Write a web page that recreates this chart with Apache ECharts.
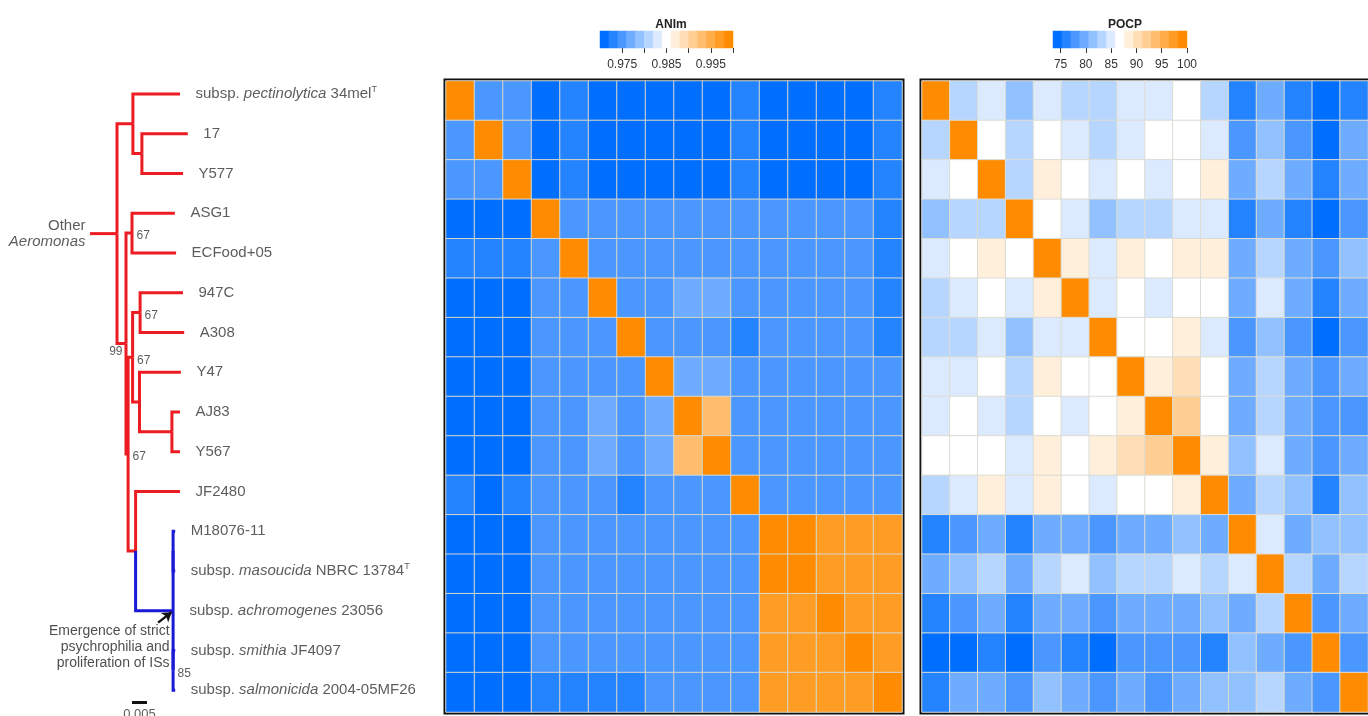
<!DOCTYPE html>
<html>
<head>
<meta charset="utf-8">
<script src="https://cdn.jsdelivr.net/npm/echarts@6/dist/echarts.min.js"></script>
<style>
  html, body { margin: 0; padding: 0; background: #fff; }
  #chart { width: 1368px; height: 716px; }
</style>
</head>
<body>
<div id="chart"></div>
<script>
// Strains in tree order, top to bottom. *...* marks an italic epithet, ^ a superscript.
const taxonKeys = ['P34mel', '17', 'Y577', 'ASG1', 'ECFood05', '947C', 'A308', 'Y47', 'AJ83', 'Y567',
  'JF2480', 'M18076', 'NBRC13784', '23056', 'JF4097', 'MF26'];
const taxonLabels = ['subsp. *pectinolytica* 34mel^T', '17', 'Y577', 'ASG1', 'ECFood+05', '947C', 'A308',
  'Y47', 'AJ83', 'Y567', 'JF2480', 'M18076-11', 'subsp. *masoucida* NBRC 13784^T',
  'subsp. *achromogenes* 23056', 'subsp. *smithia* JF4097', 'subsp. *salmonicida* 2004-05MF26'];
const psychrophilicTaxa = ['M18076', 'NBRC13784', '23056', 'JF4097', 'MF26'];

// Core-genome phylogeny (branch lengths in substitutions/site, bootstrap as node labels)
const newick = "((P34mel:0.0157,(17:0.0153,Y577:0.0137):0.0030):0.0053,((ASG1:0.0143,ECFood05:0.0147)67:0.0020,(((947C:0.0143,A308:0.0147)67:0.0025,(Y47:0.0138,(AJ83:0.0027,Y567:0.0027):0.0108):0.0023)67:0.0015,(JF2480:0.0148,((M18076:0.0007,NBRC13784:0.0007):0,23056:0.0003,(JF4097:0.0007,MF26:0.0007)85:0):0.0125):0.0025)67:0.0007)99:0.0030):0.0090;";

// Pairwise ANIm (rows/columns in tree order)
const animValues = [
  [1.0000,0.9750,0.9750,0.9710,0.9730,0.9710,0.9710,0.9710,0.9710,0.9710,0.9730,0.9710,0.9710,0.9710,0.9710,0.9730],
  [0.9750,1.0000,0.9750,0.9710,0.9730,0.9710,0.9710,0.9710,0.9710,0.9710,0.9730,0.9710,0.9710,0.9710,0.9710,0.9730],
  [0.9750,0.9750,1.0000,0.9710,0.9730,0.9710,0.9710,0.9710,0.9710,0.9710,0.9730,0.9710,0.9710,0.9710,0.9710,0.9730],
  [0.9710,0.9710,0.9710,1.0000,0.9750,0.9750,0.9750,0.9750,0.9750,0.9750,0.9750,0.9750,0.9750,0.9750,0.9750,0.9730],
  [0.9730,0.9730,0.9730,0.9750,1.0000,0.9750,0.9750,0.9750,0.9750,0.9750,0.9750,0.9750,0.9750,0.9750,0.9750,0.9730],
  [0.9710,0.9710,0.9710,0.9750,0.9750,1.0000,0.9750,0.9750,0.9770,0.9770,0.9750,0.9750,0.9750,0.9750,0.9750,0.9730],
  [0.9710,0.9710,0.9710,0.9750,0.9750,0.9750,1.0000,0.9750,0.9750,0.9750,0.9730,0.9750,0.9750,0.9750,0.9750,0.9730],
  [0.9710,0.9710,0.9710,0.9750,0.9750,0.9750,0.9750,1.0000,0.9770,0.9770,0.9750,0.9750,0.9750,0.9750,0.9750,0.9750],
  [0.9710,0.9710,0.9710,0.9750,0.9750,0.9770,0.9750,0.9770,1.0000,0.9930,0.9750,0.9750,0.9750,0.9750,0.9750,0.9750],
  [0.9710,0.9710,0.9710,0.9750,0.9750,0.9770,0.9750,0.9770,0.9930,1.0000,0.9750,0.9750,0.9750,0.9750,0.9750,0.9750],
  [0.9730,0.9710,0.9730,0.9750,0.9750,0.9750,0.9730,0.9750,0.9750,0.9750,1.0000,0.9750,0.9750,0.9750,0.9750,0.9750],
  [0.9710,0.9710,0.9710,0.9750,0.9750,0.9750,0.9750,0.9750,0.9750,0.9750,0.9750,1.0000,0.9990,0.9970,0.9970,0.9970],
  [0.9710,0.9710,0.9710,0.9750,0.9750,0.9750,0.9750,0.9750,0.9750,0.9750,0.9750,0.9990,1.0000,0.9970,0.9970,0.9970],
  [0.9710,0.9710,0.9710,0.9750,0.9750,0.9750,0.9750,0.9750,0.9750,0.9750,0.9750,0.9970,0.9970,1.0000,0.9970,0.9970],
  [0.9710,0.9710,0.9710,0.9750,0.9750,0.9750,0.9750,0.9750,0.9750,0.9750,0.9750,0.9970,0.9970,0.9970,1.0000,0.9970],
  [0.9710,0.9710,0.9710,0.9730,0.9730,0.9730,0.9730,0.9750,0.9750,0.9750,0.9750,0.9970,0.9970,0.9970,0.9970,1.0000]
];

// Pairwise POCP (%)
const pocpValues = [
  [100, 83.2, 85.0, 81.5, 85.0, 83.2, 83.2, 85.0, 85.0, 86.8, 83.2, 76.2, 79.7, 76.2, 74.4, 76.2],
  [83.2, 100, 86.8, 83.2, 86.8, 85.0, 83.2, 85.0, 86.8, 86.8, 85.0, 77.9, 81.5, 77.9, 74.4, 79.7],
  [85.0, 86.8, 100, 83.2, 88.5, 86.8, 85.0, 86.8, 85.0, 86.8, 88.5, 79.7, 83.2, 79.7, 76.2, 79.7],
  [81.5, 83.2, 83.2, 100, 86.8, 85.0, 81.5, 83.2, 83.2, 85.0, 85.0, 76.2, 79.7, 76.2, 74.4, 77.9],
  [85.0, 86.8, 88.5, 86.8, 100, 88.5, 85.0, 88.5, 86.8, 88.5, 88.5, 79.7, 83.2, 79.7, 77.9, 81.5],
  [83.2, 85.0, 86.8, 85.0, 88.5, 100, 85.0, 86.8, 85.0, 86.8, 86.8, 79.7, 85.0, 79.7, 76.2, 79.7],
  [83.2, 83.2, 85.0, 81.5, 85.0, 85.0, 100, 86.8, 86.8, 88.5, 85.0, 77.9, 81.5, 77.9, 74.4, 77.9],
  [85.0, 85.0, 86.8, 83.2, 88.5, 86.8, 86.8, 100, 88.5, 90.3, 86.8, 79.7, 83.2, 79.7, 77.9, 79.7],
  [85.0, 86.8, 85.0, 83.2, 86.8, 85.0, 86.8, 88.5, 100, 92.1, 86.8, 79.7, 83.2, 79.7, 77.9, 77.9],
  [86.8, 86.8, 86.8, 85.0, 88.5, 86.8, 88.5, 90.3, 92.1, 100, 88.5, 81.5, 85.0, 79.7, 77.9, 79.7],
  [83.2, 85.0, 88.5, 85.0, 88.5, 86.8, 85.0, 86.8, 86.8, 88.5, 100, 79.7, 83.2, 81.5, 76.2, 81.5],
  [76.2, 77.9, 79.7, 76.2, 79.7, 79.7, 77.9, 79.7, 79.7, 81.5, 79.7, 100, 85.0, 79.7, 81.5, 81.5],
  [79.7, 81.5, 83.2, 79.7, 83.2, 85.0, 81.5, 83.2, 83.2, 85.0, 83.2, 85.0, 100, 83.2, 79.7, 83.2],
  [76.2, 77.9, 79.7, 76.2, 79.7, 79.7, 77.9, 79.7, 79.7, 79.7, 81.5, 79.7, 83.2, 100, 77.9, 79.7],
  [74.4, 74.4, 76.2, 74.4, 77.9, 76.2, 74.4, 77.9, 77.9, 77.9, 76.2, 81.5, 79.7, 77.9, 100, 77.9],
  [76.2, 79.7, 79.7, 77.9, 81.5, 79.7, 77.9, 79.7, 77.9, 79.7, 81.5, 81.5, 83.2, 79.7, 77.9, 100]
];

// Colour keys
const animRange = [0.970, 1.000];
const animTicks = [0.975, 0.980, 0.985, 0.990, 0.995, 1.000];
const animTickLabels = [0.975, 0.985, 0.995];
const pocpRange = [73.5, 100];
const pocpTicks = [75, 80, 85, 90, 95, 100];
const keySteps = 15;
const scaleBar = { start: 0.014, length: 0.005, row: 15.3 };

// ---------- helpers ----------
const FONT = "'Liberation Sans', Arial, Helvetica, sans-serif";
const TEXT = '#333';
const RED = '#EC1C22';
const BLUE = '#1A1AD6';

function mix(a, b, t) { return a.map((v, i) => Math.round(v + (b[i] - v) * t)); }
const cBlue = [0, 110, 255], cWhite = [255, 255, 255], cOrange = [255, 140, 0];
const palette = [];
for (let i = 0; i < keySteps; i++) {
  const t = i / (keySteps - 1);
  const c = t < 0.5 ? mix(cBlue, cWhite, t * 2) : mix(cWhite, cOrange, (t - 0.5) * 2);
  palette.push('rgb(' + c.join(',') + ')');
}
function pieces(range) {
  const w = (range[1] - range[0]) / keySteps;
  return palette.map((color, i) => {
    const p = { color };
    if (i > 0) p.gte = range[0] + i * w;
    if (i < keySteps - 1) p.lt = range[0] + (i + 1) * w;
    return p;
  });
}
function keyData(range) {
  const w = (range[1] - range[0]) / keySteps;
  return palette.map((_, i) => [i, 0, range[0] + (i + 0.5) * w]);
}
function matrixData(m) {
  const out = [];
  m.forEach((row, r) => row.forEach((v, c) => out.push([c, r, v])));
  return out;
}

// Newick parsing and rectangular layout
function parseNewick(s) {
  let i = 0;
  function node() {
    const n = { children: [], label: '', length: 0 };
    if (s[i] === '(') {
      i++;
      n.children.push(node());
      while (s[i] === ',') { i++; n.children.push(node()); }
      i++;
    }
    let lab = '';
    while (i < s.length && !',():;'.includes(s[i])) lab += s[i++];
    n.label = lab;
    if (s[i] === ':') {
      i++;
      let num = '';
      while (i < s.length && !',();'.includes(s[i])) num += s[i++];
      n.length = parseFloat(num);
    }
    return n;
  }
  return node();
}
const tree = parseNewick(newick);
function layout(n, depth) {
  n.x = depth + n.length;
  if (!n.children.length) {
    n.y = taxonKeys.indexOf(n.label);
    n.psy = psychrophilicTaxa.includes(n.label);
  } else {
    n.children.forEach(c => layout(c, n.x));
    n.y = n.children.reduce((s, c) => s + c.y, 0) / n.children.length;
    n.psy = n.children.every(c => c.psy);
  }
}
layout(tree, 0);

const edges = [{ coords: [[0, tree.y], [tree.x, tree.y]], lineStyle: { color: RED } }];
const tips = [], supportNodes = [];
let psyNode = null;
(function walk(n) {
  if (!n.children.length) { tips.push(n); return; }
  if (n.label) supportNodes.push(n);
  n.children.forEach(c => {
    edges.push({ coords: [[n.x, n.y], [n.x, c.y], [c.x, c.y]], lineStyle: { color: c.psy ? BLUE : RED } });
    if (c.psy && !n.psy) psyNode = c;
    walk(c);
  });
})(tree);

function richLabel(s) {
  return s.replace(/\*([^*]+)\*/g, '{i|$1}').replace(/\^(\w+)/g, '{sup|$1}');
}
const rich = {
  i: { fontStyle: 'italic', fontSize: 15, fontFamily: FONT, color: TEXT },
  sup: { fontSize: 9, fontFamily: FONT, color: TEXT, padding: [0, 0, 8, 0] }
};

// ---------- chart ----------
const chart = echarts.init(document.getElementById('chart'));
const hidden = { show: false };
const pxX = 1 / 3000;           // tree x units per pixel
const pxY = 1 / 39.75;          // tree rows per pixel

const option = {
  animation: false,
  backgroundColor: '#fff',
  title: [
    { text: 'ANIm', left: 666, top: 14, textAlign: 'center',
      textStyle: { fontSize: 12, fontWeight: 'bold', color: '#222', fontFamily: FONT } },
    { text: 'POCP', left: 1120, top: 14, textAlign: 'center',
      textStyle: { fontSize: 12, fontWeight: 'bold', color: '#222', fontFamily: FONT } }
  ],
  grid: [
    { left: 446, top: 81, width: 456, height: 631, show: true, borderColor: '#111', borderWidth: 5 },
    { left: 922, top: 81, width: 456, height: 631, show: true, borderColor: '#111', borderWidth: 5 },
    { left: 600, top: 31, width: 133, height: 17 },
    { left: 1053, top: 31, width: 134, height: 17 },
    { left: 90, top: 74, width: 300, height: 636 }
  ],
  xAxis: [
    { type: 'category', gridIndex: 0, data: taxonKeys, show: false },
    { type: 'category', gridIndex: 1, data: taxonKeys, show: false },
    { type: 'category', gridIndex: 2, data: palette.map((_, i) => String(i)), show: false },
    { type: 'value', gridIndex: 2, min: animRange[0], max: animRange[1], position: 'bottom',
      axisLine: hidden, splitLine: hidden,
      axisTick: { show: true, length: 5, lineStyle: { color: '#333' }, customValues: animTicks },
      axisLabel: { customValues: animTickLabels, formatter: v => v.toFixed(3), fontSize: 12,
        color: TEXT, fontFamily: FONT, margin: 11 } },
    { type: 'category', gridIndex: 3, data: palette.map((_, i) => String(i)), show: false },
    { type: 'value', gridIndex: 3, min: pocpRange[0], max: pocpRange[1], position: 'bottom',
      axisLine: hidden, splitLine: hidden,
      axisTick: { show: true, length: 5, lineStyle: { color: '#333' }, customValues: pocpTicks },
      axisLabel: { customValues: pocpTicks, fontSize: 12, color: TEXT, fontFamily: FONT, margin: 11 } },
    { type: 'value', gridIndex: 4, min: 0, max: 0.1, show: false }
  ],
  yAxis: [
    { type: 'category', gridIndex: 0, data: taxonKeys, inverse: true, show: false },
    { type: 'category', gridIndex: 1, data: taxonKeys, inverse: true, show: false },
    { type: 'category', gridIndex: 2, data: ['k'], show: false },
    { type: 'category', gridIndex: 3, data: ['k'], show: false },
    { type: 'value', gridIndex: 4, min: -0.5, max: 15.5, inverse: true, show: false }
  ],
  visualMap: [
    { type: 'piecewise', show: false, seriesIndex: [0, 2], dimension: 2, pieces: pieces(animRange) },
    { type: 'piecewise', show: false, seriesIndex: [1, 3], dimension: 2, pieces: pieces(pocpRange) }
  ],
  series: [
    { type: 'heatmap', xAxisIndex: 0, yAxisIndex: 0, data: matrixData(animValues),
      itemStyle: { borderColor: '#d6d6cc', borderWidth: 1 }, emphasis: { disabled: true } },
    { type: 'heatmap', xAxisIndex: 1, yAxisIndex: 1, data: matrixData(pocpValues),
      itemStyle: { borderColor: '#dcdcd4', borderWidth: 1 }, emphasis: { disabled: true } },
    { type: 'heatmap', xAxisIndex: 2, yAxisIndex: 2, data: keyData(animRange),
      itemStyle: { borderWidth: 0 }, emphasis: { disabled: true } },
    { type: 'heatmap', xAxisIndex: 4, yAxisIndex: 3, data: keyData(pocpRange),
      itemStyle: { borderWidth: 0 }, emphasis: { disabled: true } },
    // tree branches
    { type: 'lines', coordinateSystem: 'cartesian2d', xAxisIndex: 6, yAxisIndex: 4, polyline: true,
      silent: true, clip: false, data: edges,
      lineStyle: { width: 3, opacity: 1, cap: 'butt', join: 'miter' } },
    // tip labels
    { type: 'scatter', xAxisIndex: 6, yAxisIndex: 4, silent: true, clip: false, symbolSize: 1,
      itemStyle: { color: 'rgba(0,0,0,0)' },
      data: tips.map(t => ({ value: [t.x, t.y], name: t.label })),
      label: { show: true, position: 'right', distance: 15,
        formatter: p => richLabel(taxonLabels[taxonKeys.indexOf(p.name)]),
        fontSize: 15, fontFamily: FONT, color: TEXT, rich } },
    // bootstrap support
    { type: 'scatter', xAxisIndex: 6, yAxisIndex: 4, silent: true, clip: false, symbolSize: 1,
      itemStyle: { color: 'rgba(0,0,0,0)' },
      data: supportNodes.map(n => {
        const d = { value: [n.x, n.y], name: n.label };
        if (n.label === '99') d.label = { position: 'left', distance: 3, offset: [0, 8] };
        return d;
      }),
      label: { show: true, position: 'right', distance: 4, offset: [0, 3], formatter: '{b}',
        fontSize: 12, fontFamily: FONT, color: TEXT } },
    // clade annotations
    { type: 'scatter', xAxisIndex: 6, yAxisIndex: 4, silent: true, clip: false, symbolSize: 1,
      itemStyle: { color: 'rgba(0,0,0,0)' },
      data: [
        { value: [0, tree.y], label: { show: true, position: 'left', distance: 4, align: 'right',
            formatter: 'Other\n{i|Aeromonas}', fontSize: 15, lineHeight: 16, fontFamily: FONT, color: TEXT,
            rich: { i: { fontStyle: 'italic', fontSize: 15, lineHeight: 16, fontFamily: FONT, color: TEXT } } } },
        { value: [psyNode.x, psyNode.y], label: { show: true, position: [-3, 13], align: 'right',
            verticalAlign: 'top', formatter: 'Emergence of strict\npsychrophilia and\nproliferation of ISs',
            fontSize: 14, lineHeight: 16, fontFamily: FONT, color: '#222' } },
        { value: [scaleBar.start + scaleBar.length / 2, scaleBar.row], label: { show: true,
            position: 'bottom', distance: 5, formatter: String(scaleBar.length),
            fontSize: 13, fontFamily: FONT, color: TEXT } }
      ] },
    // arrow to the psychrophilic clade
    { type: 'lines', coordinateSystem: 'cartesian2d', xAxisIndex: 6, yAxisIndex: 4, silent: true, clip: false,
      symbol: ['none', 'arrow'], symbolSize: 9,
      data: [{ coords: [[psyNode.x - 15 * pxX, psyNode.y + 12 * pxY], [psyNode.x - 1.5 * pxX, psyNode.y + 1.5 * pxY]] }],
      lineStyle: { color: '#111', width: 2.5, opacity: 1 } },
    // scale bar
    { type: 'lines', coordinateSystem: 'cartesian2d', xAxisIndex: 6, yAxisIndex: 4, silent: true, clip: false,
      data: [{ coords: [[scaleBar.start, scaleBar.row], [scaleBar.start + scaleBar.length, scaleBar.row]] }],
      lineStyle: { color: '#111', width: 3, opacity: 1 } }
  ]
};
chart.setOption(option);
</script>
</body>
</html>
